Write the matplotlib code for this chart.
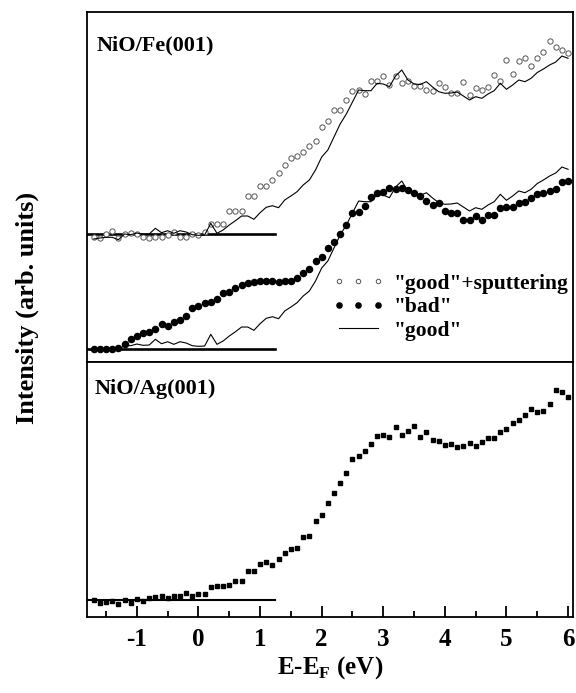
import numpy as np
import matplotlib
matplotlib.use("Agg")
import matplotlib.pyplot as plt
from matplotlib.ticker import MultipleLocator

plt.rcParams['font.family'] = ['Liberation Serif', 'DejaVu Serif']
plt.rcParams['font.weight'] = 'bold'
plt.rcParams['axes.unicode_minus'] = False
plt.rcParams['mathtext.fontset'] = 'custom'
plt.rcParams['mathtext.rm'] = 'Liberation Serif:bold'
plt.rcParams['mathtext.bf'] = 'Liberation Serif:bold'

# energy grid (eV), 0.1 eV step
energy = np.round(np.arange(-1.7, 6.01, 0.1), 1)

# NiO/Fe(001): "good"+sputtering (open circles)
sputter = [-0.27, -0.34, 0.0, 0.3, -0.34, 0.0, 0.1, 0.0, -0.3, -0.34,
           -0.27, -0.3, -0.07, 0.2, -0.24, -0.3, 0.0, -0.1, 0.2, 1.03,
           1.03, 1.03, 2.33, 2.36, 2.36, 3.86, 3.86, 4.83, 4.83, 5.43,
           6.16, 6.96, 7.6, 7.86, 8.2, 8.86, 9.36, 10.7, 11.33, 12.4,
           12.4, 13.43, 14.36, 14.43, 14.03, 15.33, 15.33, 15.86, 14.9, 15.83,
           15.16, 15.36, 14.83, 14.83, 14.43, 14.3, 15.1, 14.76, 14.13, 14.13,
           15.26, 13.93, 14.63, 14.46, 14.73, 15.96, 15.36, 17.46, 16.0, 17.33,
           17.63, 16.83, 17.66, 18.26, 19.3, 18.7, 18.43, 18.16]

# NiO/Fe(001): "good" (line, drawn twice)
good = [-0.47, -0.37, -0.3, -0.3, -0.54, 0.03, -0.04, 0.13, 0.0, 0.03,
        0.6, 0.16, 0.36, 0.1, 0.36, 0.23, -0.04, -0.1, -0.07, 1.1,
        0.1, 0.43, 0.93, 1.36, 1.83, 1.83, 1.5, 2.16, 2.7, 2.86,
        2.66, 3.43, 3.83, 4.26, 4.93, 5.43, 6.43, 7.73, 8.43, 9.73,
        11.03, 12.03, 13.23, 14.43, 14.36, 14.36, 15.1, 15.03, 14.76, 15.83,
        16.43, 15.43, 15.03, 14.98, 15.26, 14.73, 14.26, 14.1, 14.13, 14.23,
        13.83, 13.43, 13.76, 13.6, 14.03, 14.36, 15.1, 14.5, 14.93, 15.43,
        15.26, 15.6, 16.18, 16.53, 16.93, 17.23, 17.83, 17.6]

# NiO/Fe(001): "bad" (filled circles)
bad = [0.0, 0.0, 0.0, 0.0, 0.07, 0.47, 0.97, 1.33, 1.57, 1.73,
       1.97, 2.5, 2.33, 2.67, 2.9, 3.33, 4.07, 4.3, 4.57, 4.73,
       4.97, 5.57, 5.73, 6.07, 6.4, 6.6, 6.73, 6.8, 6.83, 6.8,
       6.73, 6.8, 6.83, 7.07, 7.63, 7.97, 8.83, 9.23, 10.07, 10.73,
       11.5, 12.4, 13.63, 13.73, 14.33, 15.17, 15.63, 15.67, 16.07, 16.0,
       16.07, 15.87, 15.63, 15.33, 14.83, 14.4, 14.57, 13.8, 13.57, 13.57,
       12.9, 12.9, 13.3, 12.9, 13.4, 13.4, 14.07, 14.17, 14.23, 14.57,
       14.73, 15.07, 15.5, 15.57, 15.8, 16.0, 16.73, 16.83]

# NiO/Ag(001) (squares)
ag = [0.0, -0.27, -0.23, -0.1, -0.4, 0.0, -0.27, 0.07, -0.1, 0.17,
      0.27, 0.4, 0.17, 0.43, 0.43, 0.67, 0.43, 0.6, 0.63, 1.3,
      1.43, 1.43, 1.5, 1.93, 1.93, 2.9, 2.9, 3.57, 3.83, 3.5,
      4.1, 4.73, 5.1, 5.17, 6.27, 6.4, 7.93, 8.5, 9.67, 10.67,
      11.73, 12.73, 14.07, 14.43, 14.93, 15.6, 16.4, 16.5, 16.33, 17.27,
      16.5, 16.9, 17.43, 16.3, 16.85, 16.0, 15.9, 15.5, 15.6, 15.33,
      15.4, 15.67, 15.43, 15.77, 16.17, 16.17, 16.77, 17.07, 17.67, 18.0,
      18.47, 19.07, 18.83, 18.93, 19.6, 21.0, 20.83, 20.33]

# vertical offsets of the stacked spectra
off_upper = 11.47
off_lower_good = 0.37
base_end = 1.25
xmin, xmax = -1.81, 6.08

fig = plt.figure(figsize=(5.76, 6.93), dpi=100)
ax1 = fig.add_axes([0.151, 0.4776, 0.8438, 0.5051])
ax2 = fig.add_axes([0.151, 0.1097, 0.8438, 0.3679])

sp = np.array(sputter) + off_upper
gd = np.array(good)

ax1.plot([xmin, base_end], [off_upper, off_upper], color='black', lw=1.9)
ax1.plot([xmin, base_end], [0, 0], color='black', lw=1.9)
ax1.plot(energy, sp, 'o', ms=3.8, mfc='white', mec='#555555', mew=0.7,
         label='"good"+sputtering')
ax1.plot(energy, bad, 'o', ms=4.4, color='black', label='"bad"')
ax1.plot(energy, gd + off_upper, '-', color='black', lw=0.8, label='"good"')
ax1.plot(energy, gd + off_lower_good, '-', color='black', lw=0.8)

ax1.set_xlim(xmin, xmax)
ax1.set_ylim(-1.3, 33.7)
ax1.set_xticks([])
ax1.set_yticks([])
ax1.text(0.02, 0.889, 'NiO/Fe(001)', transform=ax1.transAxes,
         fontsize=16, fontweight='bold', va='baseline')

leg = ax1.legend(loc='upper left', bbox_to_anchor=(0.505, 0.253), frameon=False,
                 fontsize=15.5, numpoints=3, handlelength=2.4, markerscale=0.85,
                 handletextpad=0.45, labelspacing=0.17, borderpad=0,
                 borderaxespad=0)

ax2.plot([xmin, base_end], [0, 0], color='black', lw=1.5)
ax2.plot(energy, ag, 's', ms=3.3, color='black')
ax2.set_xlim(xmin, xmax)
ax2.set_ylim(-1.7, 23.8)
ax2.set_yticks([])
ax2.xaxis.set_major_locator(MultipleLocator(1))
ax2.xaxis.set_minor_locator(MultipleLocator(0.5))
ax2.tick_params(axis='x', which='major', direction='in', length=8, width=1.3,
                labelsize=18, pad=8)
ax2.tick_params(axis='x', which='minor', direction='in', length=4, width=1.3)
ax2.text(0.016, 0.873, 'NiO/Ag(001)', transform=ax2.transAxes,
         fontsize=16, fontweight='bold', va='baseline')
ax2.set_xlabel('E-E$_{\\mathbf{F}}$ (eV)', fontsize=18, fontweight='bold',
               labelpad=2)

for ax in (ax1, ax2):
    for s in ax.spines.values():
        s.set_linewidth(1.3)

fig.text(0.047, 0.555, 'Intensity (arb. units)', rotation=90, fontsize=19,
         fontweight='bold', ha='center', va='center')

fig.savefig('out.png', dpi=100)
